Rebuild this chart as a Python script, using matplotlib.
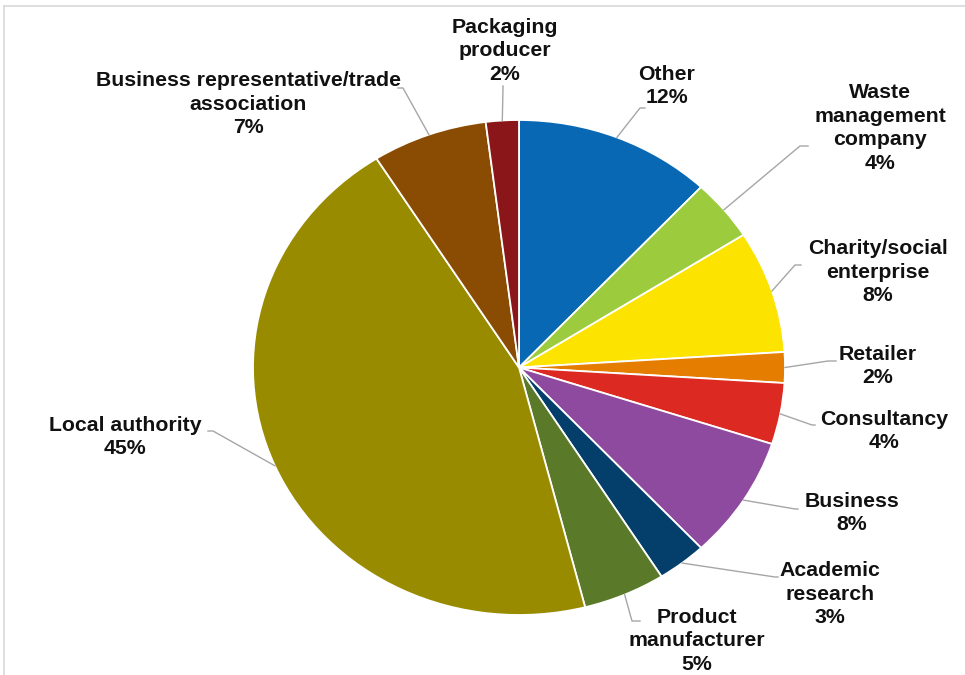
import matplotlib.pyplot as plt
from matplotlib.lines import Line2D
import numpy as np

plt.rcParams['font.family'] = ['Liberation Sans', 'DejaVu Sans']

labels = [
    "Other", "Waste\nmanagement\ncompany", "Charity/social\nenterprise",
    "Retailer", "Consultancy", "Business", "Academic\nresearch",
    "Product\nmanufacturer", "Local authority",
    "Business representative/trade\nassociation", "Packaging\nproducer",
]
shares = [12, 4, 8, 2, 4, 8, 3, 5, 45, 7, 2]
colors = [
    "#0868B3", "#9CCB3D", "#FCE300", "#E57D00", "#DC2A22", "#8D4A9F",
    "#033F6A", "#5B7A29", "#998B00", "#8A4B02", "#8A1619",
]

# label centre, then leader-line points (in pixels, y measured from top)
label_pos = [
    (667, 86), (880, 128), (878, 272), (878, 366), (884, 431), (852, 513),
    (830, 594), (697, 641), (125, 437), (248, 104), (505, 51),
]
leader_pts = [
    [(640, 108), (645, 108)],
    [(800, 146), (808, 146)],
    [(795, 265), (801, 265)],
    [(828, 361), (836, 361)],
    [(812, 425), (815, 425)],
    [(795, 509), (798, 509)],
    [(775, 577), (778, 577)],
    [(632, 621), (640, 621)],
    [(213, 431), (208, 431)],
    [(403, 88), (398, 88)],
    [(503, 88), (503, 86)],
]

W, H = 965, 675
cx, cy, rx, ry = 519, 367.5, 266, 247.5


def to_data(px, py):
    return (px - cx) / rx, (cy - py) / ry


fig = plt.figure(figsize=(W / 100, H / 100), dpi=100)
ax = fig.add_axes([0, 0, 1, 1])
wedges, _ = ax.pie(shares, colors=colors, startangle=90, counterclock=False,
                   wedgeprops=dict(edgecolor="white", linewidth=1.3))
ax.set_aspect("auto")
ax.set_xlim(-cx / rx, (W - cx) / rx)
ax.set_ylim((cy - H) / ry, cy / ry)
ax.axis("off")

for w, lab, val, pos, pts in zip(wedges, labels, shares, label_pos, leader_pts):
    mid = np.deg2rad((w.theta1 + w.theta2) / 2)
    x0, y0 = np.cos(mid), np.sin(mid)
    line = [(x0, y0)] + [to_data(*p) for p in pts]
    xs, ys = zip(*line)
    ax.plot(xs, ys, color="#A6A6A6", lw=1.0, clip_on=False)
    tx, ty = to_data(*pos)
    ax.text(tx, ty, f"{lab}\n{val}%", ha="center", va="center",
            fontsize=15.3, fontweight="bold", color="#111111",
            linespacing=1.32, clip_on=False)

# thin frame along the top and left
fig.add_artist(Line2D([4 / W, 1], [1 - 6 / H, 1 - 6 / H], color="#D9D9D9", lw=1.2))
fig.add_artist(Line2D([4 / W, 4 / W], [0, 1 - 6 / H], color="#D9D9D9", lw=1.2))

fig.savefig("out.png", dpi=100)
